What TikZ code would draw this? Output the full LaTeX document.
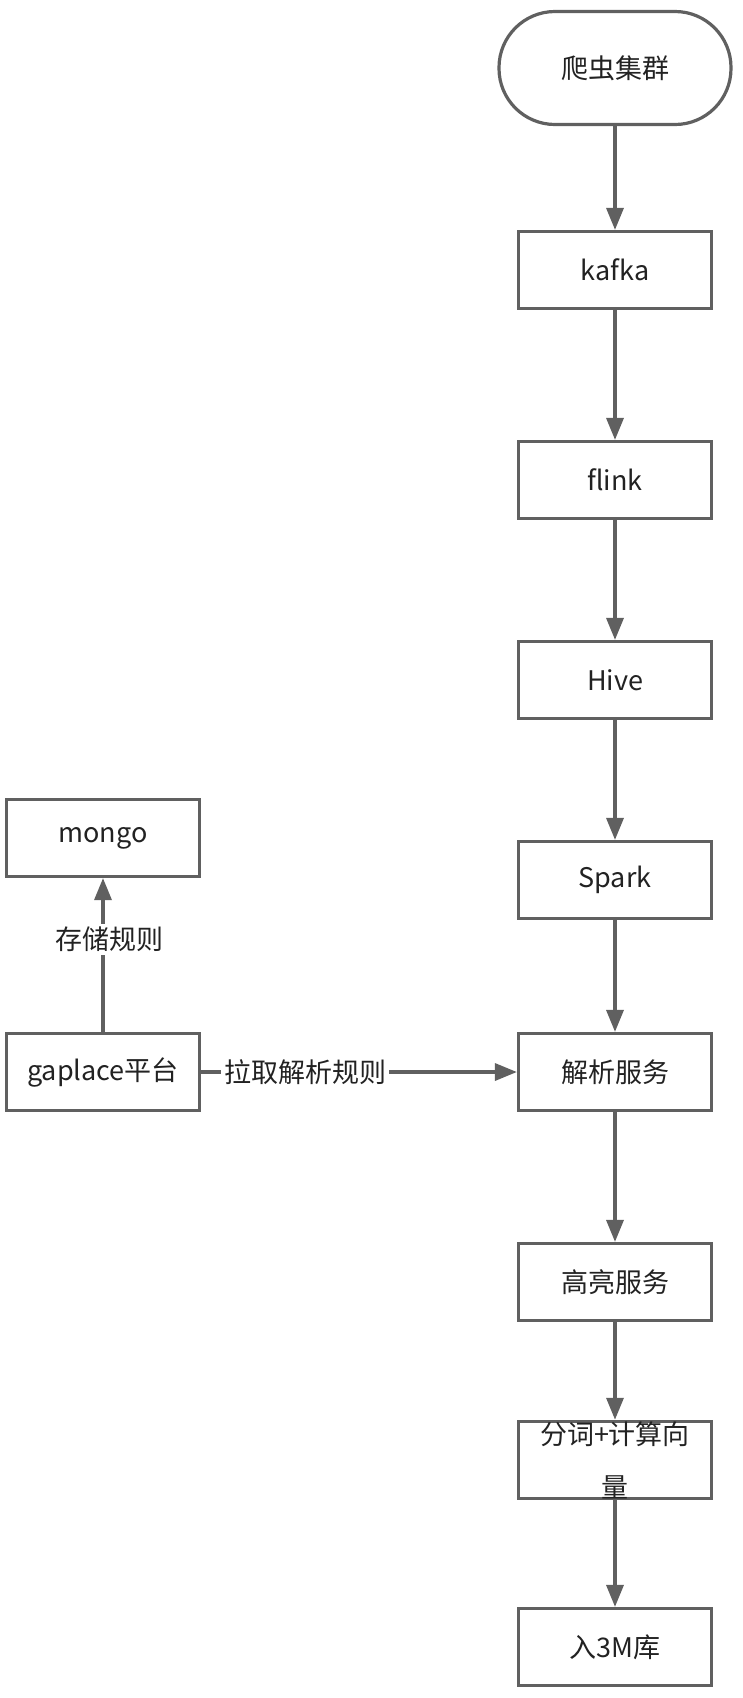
\documentclass[tikz,border=0pt]{standalone}
\usepackage{fontspec}
\usepackage{tikz}
\usetikzlibrary{arrows.meta}
\setmainfont{Noto Sans CJK SC}
\definecolor{edgegray}{RGB}{96,96,96}
\definecolor{textgray}{RGB}{34,34,34}
\pgfdeclarelayer{background}
\pgfsetlayers{background,main}

\begin{document}
\begin{tikzpicture}
	[x=1pt,y=-1pt,
	every node/.style={font=\fontsize{27}{53}\selectfont,text=textgray},
	box/.style={draw=edgegray,line width=3.2pt,fill=white,minimum width=193pt,minimum height=77pt,inner sep=0pt},
	startbox/.style={box,rounded corners=56pt,minimum width=232pt,minimum height=113pt},
	flow/.style={draw=edgegray,line width=3.4pt,-{Triangle[length=22pt,width=17pt]}},
	tag/.style={fill=white,inner sep=3pt}]
	\useasboundingbox (0,0) rectangle (742,1698);
	% main pipeline
	\node[startbox] (crawl) at (615,68) {爬虫集群};
	\node[box] (kafka) at (615,270) {kafka};
	\node[box] (flink) at (615,480) {flink};
	\node[box] (hive) at (615,680) {Hive};
	\node[box] (spark) at (615,880) {Spark};
	\node[box] (parse) at (615,1072) {解析服务};
	\node[box] (highlight) at (615,1282) {高亮服务};
	\node[box,align=center] (vector) at (615,1460) {分词+计算向\\量};
	\node[box] (store) at (615,1647) {入3M库};
	% rule platform
	\node[box] (mongo) at (103,838) {mongo};
	\node[box] (gaplace) at (103,1072) {gaplace平台};
	
	\begin{pgfonlayer}{background}
	\foreach \from/\to in {crawl/kafka,kafka/flink,flink/hive,hive/spark,spark/parse,parse/highlight,highlight/vector,vector/store}
	\draw[flow] (\from) -- (\to);
	
	\draw[flow] (gaplace) -- (mongo) node[tag,pos=0.6,xshift=6pt] {存储规则};
	\draw[flow] (gaplace) -- (parse) node[tag,pos=0.33] {拉取解析规则};
	\end{pgfonlayer}
\end{tikzpicture}
\end{document}
